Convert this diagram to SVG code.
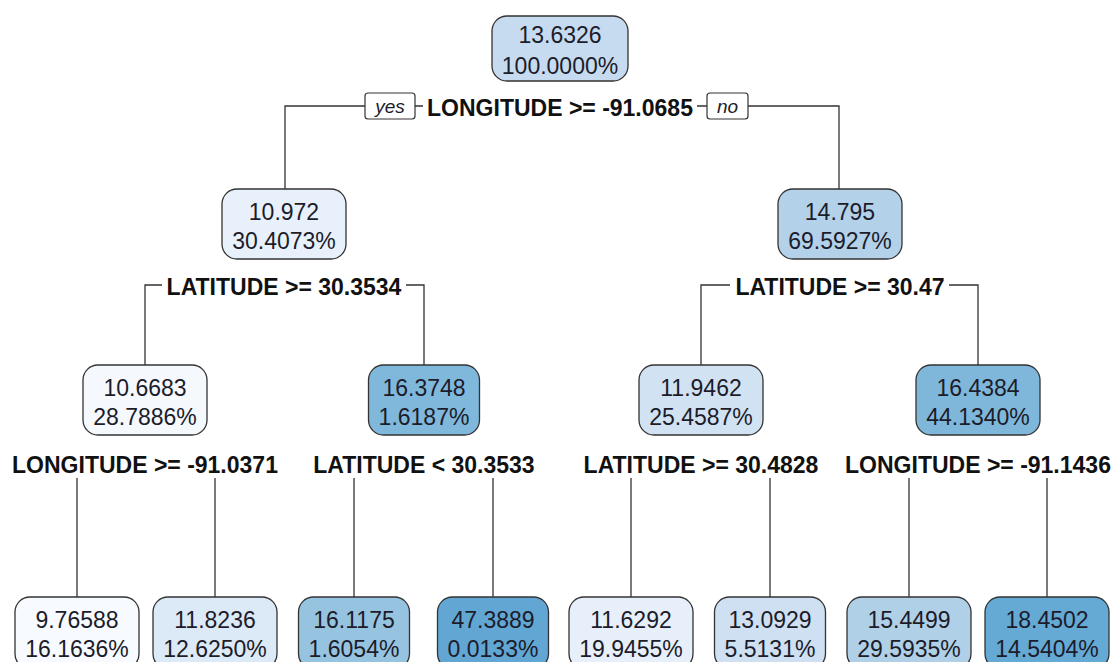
<svg xmlns="http://www.w3.org/2000/svg" width="1113" height="662" viewBox="0 0 1113 662">
<style>
.bg{fill:#ffffff}
.box{stroke:#333333;stroke-width:1.3}
.t{font-family:"Liberation Sans",Arial,sans-serif;font-size:23px;fill:#1c1c2a;text-anchor:middle}
.s{font-family:"Liberation Sans",Arial,sans-serif;font-size:23px;font-weight:bold;fill:#111111;text-anchor:middle}
.yn{font-family:"Liberation Sans",Arial,sans-serif;font-size:19px;font-style:italic;fill:#1c1c2a;text-anchor:middle}
.ynb{fill:#ffffff;stroke:#333333;stroke-width:1.2}
.c{stroke:#333333;stroke-width:1.3;fill:none}
</style>
<rect class="bg" x="0" y="0" width="1113" height="662"/>
<g id="connectors">
  <path class="c" d="M285,190 V106 H365 M415,106 H423 M697,106 H707 M748,106 H839 V189"/>
  <path class="c" d="M145,365 V285 H162 M406,285 H424 V365"/>
  <path class="c" d="M701,365 V285 H730 M949,285 H978 V365"/>
  <path class="c" d="M77,478 V597 M215,478 V597 M354,478 V597 M493,478 V597 M631,478 V597 M770,478 V597 M909,478 V597 M1047,478 V597"/>
  <g id="yes-label"><rect class="ynb" x="365" y="93" width="50" height="26" rx="3"/><text class="yn" x="390" y="113">yes</text></g>
  <g id="no-label"><rect class="ynb" x="707" y="93" width="41" height="26" rx="3"/><text class="yn" x="727.5" y="113">no</text></g>
</g>
<g id="split-labels">
  <text class="s" x="560" y="116">LONGITUDE &gt;= -91.0685</text>
  <text class="s" x="284" y="295">LATITUDE &gt;= 30.3534</text>
  <text class="s" x="840" y="295">LATITUDE &gt;= 30.47</text>
  <text class="s" x="145" y="473">LONGITUDE &gt;= -91.0371</text>
  <text class="s" x="424" y="473">LATITUDE &lt; 30.3533</text>
  <text class="s" x="701" y="473">LATITUDE &gt;= 30.4828</text>
  <text class="s" x="978" y="473">LONGITUDE &gt;= -91.1436</text>
</g>
<g id="root"><rect class="box" x="492" y="16" width="136" height="65" rx="15" fill="#c6dbef"/><text class="t" x="560" y="43">13.6326</text><text class="t" x="560" y="74">100.0000%</text></g>
<g id="n2"><rect class="box" x="222" y="189" width="124" height="70" rx="15" fill="#e8f1fb"/><text class="t" x="284" y="220">10.972</text><text class="t" x="284" y="249">30.4073%</text></g>
<g id="n3"><rect class="box" x="778" y="189" width="124" height="70" rx="15" fill="#b3d2ea"/><text class="t" x="840" y="220">14.795</text><text class="t" x="840" y="249">69.5927%</text></g>
<g id="n4"><rect class="box" x="83" y="365" width="124" height="70" rx="15" fill="#f5f9fe"/><text class="t" x="145" y="396">10.6683</text><text class="t" x="145" y="425">28.7886%</text></g>
<g id="n5"><rect class="box" x="368.5" y="365" width="111" height="70" rx="15" fill="#80b8db"/><text class="t" x="424" y="396">16.3748</text><text class="t" x="424" y="425">1.6187%</text></g>
<g id="n6"><rect class="box" x="639" y="365" width="124" height="70" rx="15" fill="#d1e3f3"/><text class="t" x="701" y="396">11.9462</text><text class="t" x="701" y="425">25.4587%</text></g>
<g id="n7"><rect class="box" x="916" y="365" width="124" height="70" rx="15" fill="#7fb7da"/><text class="t" x="978" y="396">16.4384</text><text class="t" x="978" y="425">44.1340%</text></g>
<g id="l1"><rect class="box" x="15" y="597" width="124" height="72" rx="15" fill="#f7fbff"/><text class="t" x="77" y="628">9.76588</text><text class="t" x="77" y="657">16.1636%</text></g>
<g id="l2"><rect class="box" x="153" y="597" width="124" height="72" rx="15" fill="#dce9f6"/><text class="t" x="215" y="628">11.8236</text><text class="t" x="215" y="657">12.6250%</text></g>
<g id="l3"><rect class="box" x="298.5" y="597" width="111" height="72" rx="15" fill="#96c4e0"/><text class="t" x="354" y="628">16.1175</text><text class="t" x="354" y="657">1.6054%</text></g>
<g id="l4"><rect class="box" x="437.5" y="597" width="111" height="72" rx="15" fill="#62a7d4"/><text class="t" x="493" y="628">47.3889</text><text class="t" x="493" y="657">0.0133%</text></g>
<g id="l5"><rect class="box" x="569" y="597" width="124" height="72" rx="15" fill="#e7f0fa"/><text class="t" x="631" y="628">11.6292</text><text class="t" x="631" y="657">19.9455%</text></g>
<g id="l6"><rect class="box" x="714.5" y="597" width="111" height="72" rx="15" fill="#cee0f2"/><text class="t" x="770" y="628">13.0929</text><text class="t" x="770" y="657">5.5131%</text></g>
<g id="l7"><rect class="box" x="847" y="597" width="124" height="72" rx="15" fill="#b0d0e8"/><text class="t" x="909" y="628">15.4499</text><text class="t" x="909" y="657">29.5935%</text></g>
<g id="l8"><rect class="box" x="985" y="597" width="124" height="72" rx="15" fill="#65a9d5"/><text class="t" x="1047" y="628">18.4502</text><text class="t" x="1047" y="657">14.5404%</text></g>
</svg>
